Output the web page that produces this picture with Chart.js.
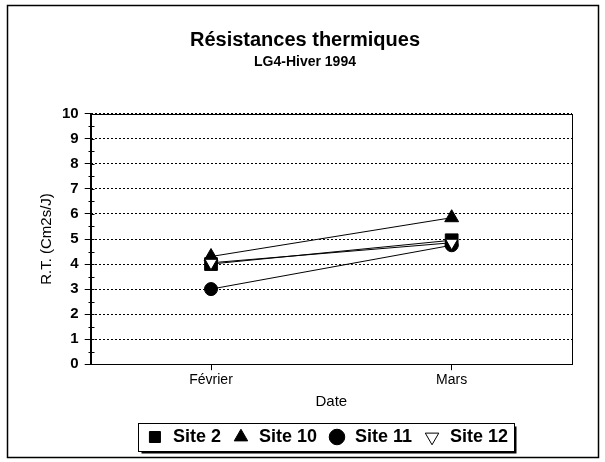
<!DOCTYPE html>
<html>
<head>
<meta charset="utf-8">
<script src="https://cdn.jsdelivr.net/npm/chart.js@4/dist/chart.umd.min.js"></script>
<style>
  body { margin: 0; background: #fff; }
  canvas { display: block; }
</style>
</head>
<body>
<canvas id="myChart" width="605" height="462"></canvas>
<script>
// data
const dates = ["Février", "Mars"];
const siteNames = ["Site 2", "Site 10", "Site 11", "Site 12"];
const site2 = [4.0, 4.95];
const site10 = [4.3, 5.85];
const site11 = [3.0, 4.75];
const site12 = [4.05, 4.85];
const yMin = 0;
const yMax = 10;
const yStep = 1;

const FONT = "Arial, 'Liberation Sans', sans-serif";

// frame, plot border, minor ticks and legend box
const framePlugin = {
  id: "framePlugin",
  afterLayout(chart) {
    // legend sits under the plot, not under the whole canvas
    const lg = chart.legend;
    const dx = 327 - (lg.left + lg.right) / 2;
    lg.left += dx;
    lg.right += dx;
  },
  afterDraw(chart) {
    const ctx = chart.ctx;
    const area = chart.chartArea;
    const y = chart.scales.y;
    ctx.save();
    ctx.strokeStyle = "#000";

    // plot border
    ctx.lineWidth = 1;
    ctx.strokeRect(Math.round(area.left) + 0.5, Math.round(area.top) + 0.5,
      Math.round(area.right - area.left), Math.round(area.bottom - area.top));

    // small ticks across the y axis
    const ax = Math.round(area.left) + 0.5;
    ctx.beginPath();
    for (let v = yMin; v <= yMax; v += 0.5) {
      const py = Math.round(y.getPixelForValue(v)) + 0.5;
      const major = v % 1 === 0;
      ctx.moveTo(ax - (major ? 0 : 3), py);
      ctx.lineTo(ax + 3, py);
    }
    ctx.stroke();

    // box round the legend
    const boxes = chart.legend.legendHitBoxes;
    if (boxes && boxes.length) {
      let l = Infinity, r = -Infinity, t = Infinity, b = -Infinity;
      boxes.forEach((h) => {
        l = Math.min(l, h.left);
        r = Math.max(r, h.left + h.width);
        t = Math.min(t, h.top);
        b = Math.max(b, h.top + h.height);
      });
      l = Math.round(l - 8) + 0.5;
      r = Math.round(r + 6) + 0.5;
      t = Math.round(t - 5) + 0.5;
      b = Math.round(b + 5) + 0.5;
      ctx.lineWidth = 1;
      ctx.strokeRect(l, t, r - l, b - t);
      ctx.lineWidth = 2;
      ctx.beginPath();
      ctx.moveTo(l + 3, b + 1);
      ctx.lineTo(r + 1, b + 1);
      ctx.lineTo(r + 1, t + 3);
      ctx.stroke();
    }

    // outer frame
    ctx.lineWidth = 1.5;
    ctx.strokeRect(7.5, 5.5, 591, 452);
    ctx.restore();
  }
};

const makeSet = (label, values, style, fill, rotation, radius, order) => ({
  label: label,
  data: values,
  borderColor: "#000",
  borderWidth: 1,
  backgroundColor: fill,
  pointStyle: style,
  pointRotation: rotation,
  pointRadius: radius,
  pointBackgroundColor: fill,
  pointBorderColor: "#000",
  pointBorderWidth: 1,
  fill: false,
  tension: 0,
  order: order
});

const data = {
  labels: dates,
  datasets: [
    makeSet(siteNames[0], site2, "rect", "#000", 0, 9, 1),
    makeSet(siteNames[1], site10, "triangle", "#000", 0, 8, 2),
    makeSet(siteNames[2], site11, "circle", "#000", 0, 6.5, 3),
    makeSet(siteNames[3], site12, "triangle", "#fff", 180, 7, 0)
  ]
};

const config = {
  type: "line",
  data: data,
  options: {
    responsive: false,
    animation: false,
    devicePixelRatio: 1,
    layout: { padding: { left: 38, right: 33, top: 0, bottom: 6 } },
    plugins: {
      title: {
        display: true,
        text: "Résistances thermiques",
        color: "#000",
        font: { family: FONT, size: 20, weight: "bold" },
        padding: { top: 28, bottom: 0 }
      },
      subtitle: {
        display: true,
        text: "LG4-Hiver 1994",
        color: "#000",
        font: { family: FONT, size: 14, weight: "bold" },
        padding: { top: 2, bottom: 43 }
      },
      legend: {
        position: "bottom",
        labels: {
          color: "#000",
          font: { family: FONT, size: 18, weight: "bold" },
          usePointStyle: true,
          boxHeight: 11,
          padding: 11,
          sort: (a, b) => a.datasetIndex - b.datasetIndex
        }
      },
      tooltip: { enabled: false }
    },
    scales: {
      x: {
        offset: true,
        grid: {
          offset: false,
          drawOnChartArea: false,
          drawTicks: true,
          tickLength: 6,
          color: "#000"
        },
        border: { display: true, color: "#000" },
        ticks: {
          color: "#000",
          padding: 2,
          font: { family: FONT, size: 14 }
        },
        title: {
          display: true,
          text: "Date",
          color: "#000",
          font: { family: FONT, size: 15 },
          padding: { top: 2, bottom: 6 }
        }
      },
      y: {
        min: yMin,
        max: yMax,
        ticks: {
          stepSize: yStep,
          color: "#000",
          padding: 6,
          font: { family: FONT, size: 15, weight: "bold" }
        },
        grid: {
          color: "#000",
          lineWidth: 1,
          tickLength: 6,
          drawTicks: true
        },
        border: { display: true, color: "#000", dash: [2, 2] },
        title: {
          display: true,
          text: "R.T. (Cm2s/J)",
          color: "#000",
          font: { family: FONT, size: 15 },
          padding: { top: 0, bottom: 0 }
        }
      }
    }
  },
  plugins: [framePlugin]
};

const myChart = new Chart(document.getElementById("myChart"), config);
</script>
</body>
</html>
